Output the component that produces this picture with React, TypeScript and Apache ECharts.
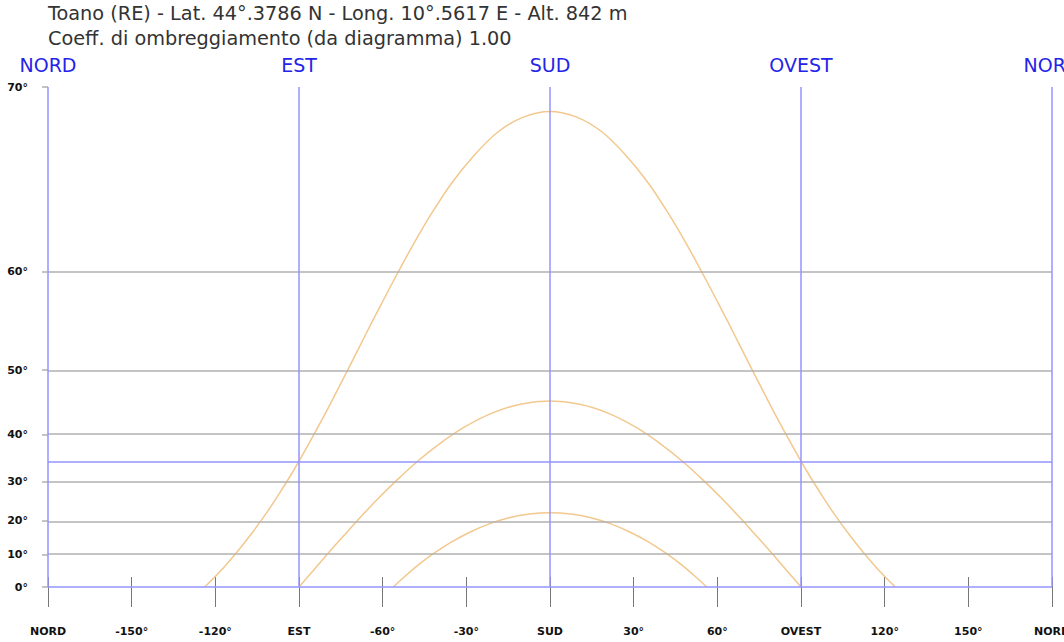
import React, { useEffect, useRef } from "react";
import * as echarts from "echarts";

const titleLines = [
  "Toano (RE) - Lat. 44°.3786 N - Long. 10°.5617 E - Alt. 842 m",
  "Coeff. di ombreggiamento (da diagramma) 1.00",
];

// azimuth ticks (degrees from south) and their labels
const cardinalNames: Record<string, string> = { "-180": "NORD", "-90": "EST", "0": "SUD", "90": "OVEST", "180": "NORD" };
const cardinalAz = [-180, -90, 0, 90, 180];

// altitude grid (degrees)
const altTicks = [0, 10, 20, 30, 40, 50, 60, 70];
const eastWestAlt = 34.67;

// sun paths: azimuth / altitude pairs
const summerAz = [-123.8, -122.0, -116.9, -112.0, -107.2, -102.4, -97.6, -92.6, -87.4, -81.7, -75.4, -71.9, -68.1, -64.0, -59.4, -54.3, -48.7, -42.4, -35.3, -27.4, -18.8, -9.6, 0, 9.6, 18.8, 27.4, 35.3, 42.4, 48.7, 54.3, 59.4, 64.0, 68.1, 71.9, 75.4, 81.7, 87.4, 92.6, 97.6, 102.4, 107.2, 112.0, 116.9, 122.0, 123.8];
const summerAlt = [0, 1.56, 6.23, 11.1, 16.15, 21.33, 26.61, 31.95, 37.31, 42.64, 47.89, 50.46, 52.98, 55.43, 57.78, 60.04, 62.13, 64.04, 65.74, 67.11, 68.19, 68.83, 69.06, 68.83, 68.19, 67.11, 65.74, 64.04, 62.13, 60.04, 57.78, 55.43, 52.98, 50.46, 47.89, 42.64, 37.31, 31.95, 26.61, 21.33, 16.15, 11.1, 6.23, 1.56, 0];

const equinoxAz = [-90, -84.7, -79.4, -73.8, -68.0, -61.8, -55.0, -47.7, -39.5, -30.6, -21.0, -10.7, 0, 10.7, 21.0, 30.6, 39.5, 47.7, 55.0, 61.8, 68.0, 73.8, 79.4, 84.7, 90];
const equinoxAlt = [0, 5.35, 10.66, 15.87, 20.94, 25.79, 30.36, 34.54, 38.24, 41.33, 43.66, 45.12, 45.62, 45.12, 43.66, 41.33, 38.24, 34.54, 30.36, 25.79, 20.94, 15.87, 10.66, 5.35, 0];

const winterAz = [-56.2, -52.7, -47.2, -41.3, -35.1, -28.6, -21.8, -14.7, -7.4, 0, 7.4, 14.7, 21.8, 28.6, 35.1, 41.3, 47.2, 52.7, 56.2];
const winterAlt = [0, 2.85, 6.95, 10.68, 14.0, 16.83, 19.12, 20.81, 21.83, 22.18, 21.83, 20.81, 19.12, 16.83, 14.0, 10.68, 6.95, 2.85, 0];

const DEG = Math.PI / 180;
const toY = (alt: number) => Math.tan(alt * DEG);
const pairs = (az: number[], alt: number[]) => az.map((a, i) => [a, toY(alt[i])]);

const BLUE_LINE = "#9494ff";
const GRAY_LINE = "#b0b0b0";
const CURVE = "#f2c88e";
const FONT = "DejaVu Sans, Verdana, sans-serif";

export default function App() {
  const ref = useRef<HTMLDivElement>(null);
  useEffect(() => {
    document.body.style.margin = "0";
    const chart = echarts.init(ref.current!, null, { renderer: "svg" });
    const curveSeries = (name: string, data: number[][]) => ({
      name,
      type: "line",
      data,
      smooth: 0.3,
      showSymbol: false,
      symbol: "none",
      xAxisIndex: 0,
      yAxisIndex: 0,
      lineStyle: { color: CURVE, width: 1.5 },
      silent: true,
    });
    const markData: any[] = [
      ...altTicks.map((a) => ({
        yAxis: toY(a),
        lineStyle: { color: a === 0 ? BLUE_LINE : GRAY_LINE, width: 1.5, type: "solid" },
      })),
      { yAxis: toY(eastWestAlt), lineStyle: { color: BLUE_LINE, width: 1.5, type: "solid" } },
      ...cardinalAz.map((v) => ({ xAxis: v, lineStyle: { color: BLUE_LINE, width: 1.5, type: "solid" } })),
    ];
    chart.setOption({
      animation: false,
      title: {
        text: titleLines.join("\n"),
        left: 48,
        top: 1,
        padding: 0,
        textStyle: { fontFamily: FONT, fontSize: 19.3, fontWeight: "normal", color: "#333", lineHeight: 25 },
      },
      grid: { left: 48, right: 12, top: 87, bottom: 55, containLabel: false, outerBoundsMode: "none" },
      xAxis: [
        {
          type: "value",
          min: -180,
          max: 180,
          interval: 30,
          position: "bottom",
          axisLine: { show: false, onZero: false },
          splitLine: { show: false },
          axisTick: { show: true, length: 20, inside: false, lineStyle: { color: "#777", width: 1 } },
          axisLabel: {
            show: true,
            margin: 39,
            showMinLabel: true,
            showMaxLabel: true,
            hideOverlap: false,
            fontFamily: FONT,
            fontSize: 11,
            fontWeight: "bold",
            color: "#111",
            formatter: (v: number) => cardinalNames[String(v)] ?? `${v}°`,
          },
        },
        {
          type: "value",
          min: -180,
          max: 180,
          interval: 30,
          position: "bottom",
          axisLine: { show: false, onZero: false },
          splitLine: { show: false },
          axisTick: { show: true, length: 10, inside: true, lineStyle: { color: "#777", width: 1 } },
          axisLabel: { show: false },
        },
        {
          type: "value",
          min: -180,
          max: 180,
          interval: 30,
          position: "top",
          axisLine: { show: false, onZero: false },
          splitLine: { show: false },
          axisTick: { show: false },
          axisLabel: {
            show: true,
            margin: 13,
            showMinLabel: true,
            showMaxLabel: true,
            hideOverlap: false,
            fontFamily: FONT,
            fontSize: 19,
            color: "#2424e8",
            formatter: (v: number) => cardinalNames[String(v)] ?? "",
          },
        },
      ],
      yAxis: {
        type: "value",
        min: 0,
        max: toY(70),
        position: "left",
        axisLine: { show: false, onZero: false },
        splitLine: { show: false },
        axisTick: {
          show: true,
          length: 6,
          customValues: altTicks.map(toY),
          lineStyle: { color: GRAY_LINE, width: 1.5 },
        },
        axisLabel: {
          show: true,
          margin: 20,
          customValues: altTicks.map(toY),
          fontFamily: FONT,
          fontSize: 11,
          fontWeight: "bold",
          color: "#111",
          formatter: (v: number) => `${Math.round(Math.atan(v) / DEG)}°`,
        },
      },
      series: [
        curveSeries("Estate", pairs(summerAz, summerAlt)),
        curveSeries("Equinozio", pairs(equinoxAz, equinoxAlt)),
        curveSeries("Inverno", pairs(winterAz, winterAlt)),
        {
          name: "griglia",
          type: "line",
          data: [],
          silent: true,
          markLine: {
            silent: true,
            symbol: ["none", "none"],
            label: { show: false },
            emphasis: { disabled: true },
            animation: false,
            data: markData,
          },
        },
      ],
    });
    return () => chart.dispose();
  }, []);
  return <div ref={ref} style={{ width: 1064, height: 642 }} />;
}
